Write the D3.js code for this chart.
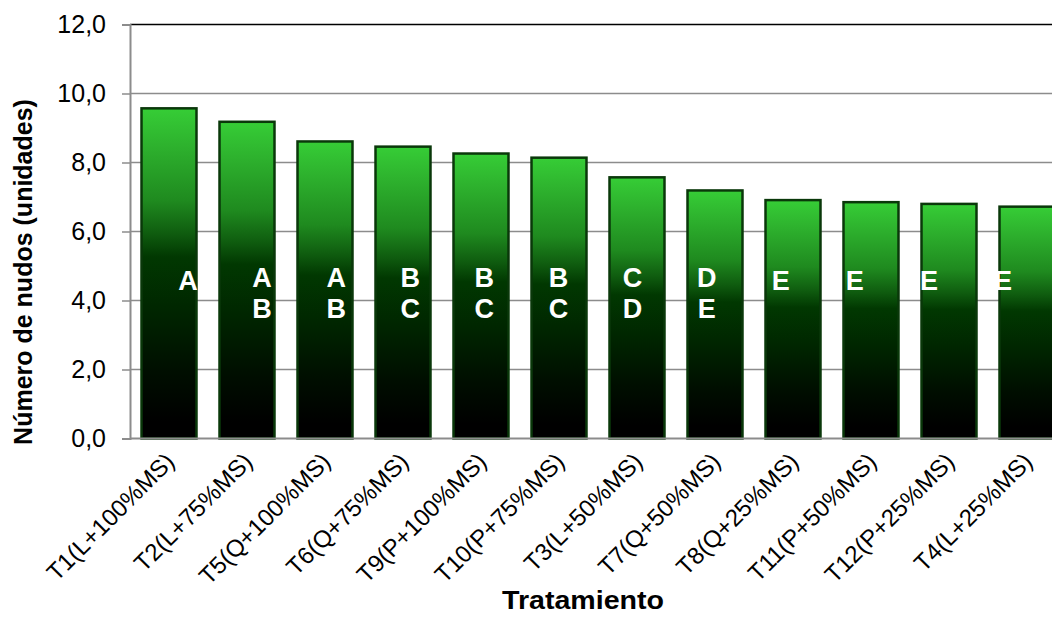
<!DOCTYPE html>
<html>
<head>
<meta charset="utf-8">
<script src="https://cdn.jsdelivr.net/npm/d3@7"></script>
<style>
  body { margin: 0; background: #fff; }
  svg { display: block; font-family: Arial, "Liberation Sans", sans-serif; }
</style>
</head>
<body>
<div id="chart"></div>
<script>
"use strict";

// data
const treatments = ["T1(L+100%MS)", "T2(L+75%MS)", "T5(Q+100%MS)", "T6(Q+75%MS)", "T9(P+100%MS)", "T10(P+75%MS)",
                    "T3(L+50%MS)", "T7(Q+50%MS)", "T8(Q+25%MS)", "T11(P+50%MS)", "T12(P+25%MS)", "T4(L+25%MS)"];
const nudos = [9.57, 9.18, 8.61, 8.46, 8.26, 8.14, 7.57, 7.19, 6.91, 6.85, 6.80, 6.72];
const groups = ["A", "AB", "AB", "BC", "BC", "BC", "CD", "DE", "E", "E", "E", "E"];
const yTicks = [0, 2, 4, 6, 8, 10, 12];


// setting
const width = 1052, height = 618;
const plot = { left: 130, right: 1066, top: 24.5, bottom: 438.5 };


let svg = d3.select("#chart").append("svg")
.attr("width", width)
.attr("height", height);


// gradient for the bars
let grad = svg.append("defs").append("linearGradient")
.attr("id", "barFill")
.attr("x1", 0).attr("y1", 0).attr("x2", 0).attr("y2", 1);
[[0, "#36cd36"], [0.12, "#2db02d"], [0.28, "#1f8a1f"], [0.38, "#0f5c0f"], [0.45, "#013801"],
 [0.6, "#002700"], [0.8, "#000e00"], [0.95, "#000000"]].forEach(s => {
    grad.append("stop").attr("offset", s[0]).attr("stop-color", s[1]);
});


// scales
let scaleX = d3.scaleBand()
.domain(treatments)
.range([plot.left, plot.right])
.paddingInner(0.295)
.paddingOuter(0.1475);

let scaleY = d3.scaleLinear()
.domain([0, 12])
.range([plot.bottom, plot.top]);

// letters sit on their own grid (text boxes in the original)
let scaleLetter = d3.scalePoint()
.domain(treatments)
.range([188, 1003]);


// grid lines
svg.append("g")
.attr("class", "grid")
.selectAll("line")
.data(yTicks.filter(t => t > 0 && t < 12))
.enter()
.append("line")
.attr("x1", plot.left).attr("x2", plot.right)
.attr("y1", d => scaleY(d)).attr("y2", d => scaleY(d))
.attr("stroke", "#8c8c8c")
.attr("stroke-width", 1.5);

// top border
svg.append("line")
.attr("x1", plot.left).attr("x2", plot.right)
.attr("y1", scaleY(12)).attr("y2", scaleY(12))
.attr("stroke", "#000")
.attr("stroke-width", 1.5);


// y axis
let yAxis = svg.append("g")
.attr("transform", `translate(${plot.left}, 0)`)
.call(d3.axisLeft(scaleY).tickValues(yTicks).tickSize(8).tickPadding(16)
      .tickFormat(d => d3.format(".1f")(d).replace(".", ",")));
yAxis.select(".domain").attr("stroke", "#8c8c8c").attr("stroke-width", 2);
yAxis.selectAll(".tick line").attr("stroke", "#8c8c8c").attr("stroke-width", 1.5);
yAxis.selectAll(".tick text")
.attr("font-size", 25)
.attr("fill", "#000")
.attr("font-family", "Arial, 'Liberation Sans', sans-serif");


// bars
svg.append("g")
.selectAll("rect")
.data(nudos)
.enter()
.append("rect")
.attr("x", (d, i) => scaleX(treatments[i]))
.attr("y", d => scaleY(d))
.attr("width", scaleX.bandwidth())
.attr("height", d => scaleY(0) - scaleY(d))
.attr("fill", "url(#barFill)")
.attr("stroke", "#0a380a")
.attr("stroke-width", 2.5);


// x axis line
svg.append("line")
.attr("x1", plot.left).attr("x2", plot.right)
.attr("y1", scaleY(0)).attr("y2", scaleY(0))
.attr("stroke", "#8c8c8c")
.attr("stroke-width", 2);


// group letters
svg.append("g")
.selectAll("text")
.data(groups)
.enter()
.append("text")
.attr("x", (d, i) => scaleLetter(treatments[i]))
.attr("y", d => d.length > 1 ? 287 : 290)
.attr("text-anchor", "middle")
.attr("font-size", 27)
.attr("font-weight", "bold")
.attr("fill", "#fff")
.each(function(d) {
    if (d.length > 1) {
        let x = d3.select(this).attr("x");
        d3.select(this).append("tspan").attr("x", x).text(d[0]);
        d3.select(this).append("tspan").attr("x", x).attr("dy", 31).text(d[1]);
    }
    else {
        d3.select(this).text(d);
    }
});


// x tick labels
svg.append("g")
.selectAll("text")
.data(treatments)
.enter()
.append("text")
.attr("transform", d => `translate(${scaleX(d) + scaleX.bandwidth() / 2 + 7}, 463) rotate(-45)`)
.attr("text-anchor", "end")
.attr("font-size", 24)
.attr("fill", "#000")
.text(d => d);


// axis titles
svg.append("text")
.attr("transform", "translate(32, 272) rotate(-90)")
.attr("text-anchor", "middle")
.attr("font-size", 25)
.attr("font-weight", "bold")
.text("Número de nudos (unidades)");

svg.append("text")
.attr("x", 583)
.attr("y", 609)
.attr("text-anchor", "middle")
.attr("font-size", 25)
.attr("font-weight", "bold")
.attr("textLength", 162)
.attr("lengthAdjust", "spacingAndGlyphs")
.text("Tratamiento");
</script>
</body>
</html>
